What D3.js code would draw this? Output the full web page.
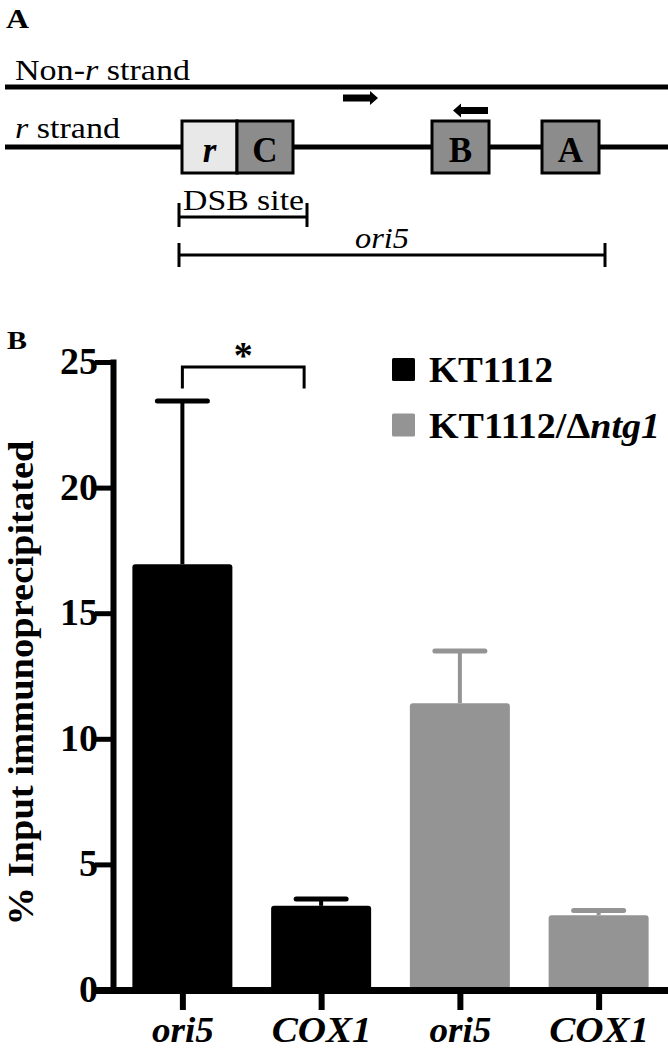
<!DOCTYPE html>
<html>
<head>
<meta charset="utf-8">
<script src="https://cdn.jsdelivr.net/npm/d3@7"></script>
<style>
  body { margin: 0; background: #fff; }
  text { font-family: "Liberation Serif", "Times New Roman", Times, serif; }
</style>
</head>
<body>
<script>
// bar chart data (panel B)
var genes = ["ori5", "COX1", "ori5", "COX1"];
var strains = ["KT1112", "KT1112", "KT1112/Δntg1", "KT1112/Δntg1"];
var means = [16.95, 3.35, 11.42, 2.98];
var errors = [6.5, 0.27, 2.08, 0.18];
var yTicks = [0, 5, 10, 15, 20, 25];
var legendNames = ["KT1112", "KT1112/Δntg1"];
var legendColors = ["#000000", "#949494"];

var width = 668, height = 1051;
var svg = d3.select("body").append("svg")
  .attr("width", width)
  .attr("height", height);

/////////////////////////////////////////////////////////////
// panel A : schematic
var gA = svg.append("g");

gA.append("text").attr("x", 6).attr("y", 28)
  .attr("font-size", 28).attr("font-weight", "bold")
  .attr("textLength", 23).attr("lengthAdjust", "spacingAndGlyphs")
  .text("A");

var t1 = gA.append("text").attr("x", 15).attr("y", 80)
  .attr("font-size", 29)
  .attr("textLength", 175).attr("lengthAdjust", "spacingAndGlyphs");
t1.append("tspan").text("Non-");
t1.append("tspan").attr("font-style", "italic").text("r");
t1.append("tspan").text(" strand");

var t2 = gA.append("text").attr("x", 15).attr("y", 138)
  .attr("font-size", 29)
  .attr("textLength", 105).attr("lengthAdjust", "spacingAndGlyphs");
t2.append("tspan").attr("font-style", "italic").text("r");
t2.append("tspan").text(" strand");

// strands
gA.append("line").attr("x1", 5).attr("x2", 668).attr("y1", 87).attr("y2", 87)
  .attr("stroke", "#000").attr("stroke-width", 5);
gA.append("line").attr("x1", 5).attr("x2", 668).attr("y1", 147).attr("y2", 147)
  .attr("stroke", "#000").attr("stroke-width", 5);

// primer arrows
gA.append("path")
  .attr("d", "M343,94.5 L370,94.5 L370,91 L378,98 L370,105 L370,101.5 L343,101.5 Z")
  .attr("fill", "#000");
gA.append("path")
  .attr("d", "M488,107 L461,107 L461,103.5 L453,110.5 L461,117.5 L461,114 L488,114 Z")
  .attr("fill", "#000");

// boxes
var boxes = [
  {label: "r", x0: 182, x1: 237, fill: "#e8e8e8", italic: true},
  {label: "C", x0: 237, x1: 293, fill: "#8c8c8c", italic: false},
  {label: "B", x0: 432, x1: 489, fill: "#8c8c8c", italic: false},
  {label: "A", x0: 542, x1: 599, fill: "#8c8c8c", italic: false}
];
gA.selectAll("rect.box").data(boxes).enter().append("rect")
  .attr("class", "box")
  .attr("x", d => d.x0).attr("y", 121)
  .attr("width", d => d.x1 - d.x0).attr("height", 52)
  .attr("fill", d => d.fill)
  .attr("stroke", "#000").attr("stroke-width", 3);
gA.selectAll("text.boxlab").data(boxes).enter().append("text")
  .attr("class", "boxlab")
  .attr("x", d => (d.x0 + d.x1) / 2).attr("y", 162)
  .attr("text-anchor", "middle")
  .attr("font-size", 35).attr("font-weight", "bold")
  .attr("font-style", d => d.italic ? "italic" : "normal")
  .text(d => d.label);

// DSB site bracket
gA.append("text").attr("x", 183).attr("y", 210)
  .attr("font-size", 29)
  .attr("textLength", 121).attr("lengthAdjust", "spacingAndGlyphs")
  .text("DSB site");
gA.append("path")
  .attr("d", "M179,203 L179,227 M179,217 L307,217 M307,203 L307,227")
  .attr("fill", "none").attr("stroke", "#000").attr("stroke-width", 3);

// ori5 bracket
gA.append("text").attr("x", 382).attr("y", 248)
  .attr("text-anchor", "middle")
  .attr("font-size", 29).attr("font-style", "italic")
  .attr("textLength", 54).attr("lengthAdjust", "spacingAndGlyphs")
  .text("ori5");
gA.append("path")
  .attr("d", "M179,243 L179,267 M179,255 L605,255 M605,243 L605,267")
  .attr("fill", "none").attr("stroke", "#000").attr("stroke-width", 3);

/////////////////////////////////////////////////////////////
// panel B : bar chart
svg.append("text").attr("x", 7).attr("y", 349)
  .attr("font-size", 25).attr("font-weight", "bold")
  .attr("textLength", 20).attr("lengthAdjust", "spacingAndGlyphs")
  .text("B");

var xScale = d3.scalePoint()
  .domain(d3.range(genes.length))
  .range([113, 668])
  .padding(0.5);

var yScale = d3.scaleLinear()
  .domain([0, 25])
  .range([990, 362]);

var colorOf = function(s) { return legendColors[legendNames.indexOf(s)]; };

var barW = 100;

// bars
svg.selectAll("rect.bar")
  .data(means)
  .enter().append("rect")
  .attr("class", "bar")
  .attr("x", (d, i) => xScale(i) - barW / 2)
  .attr("y", d => yScale(d))
  .attr("width", barW)
  .attr("height", d => yScale(0) - yScale(d))
  .attr("rx", 3)
  .attr("fill", (d, i) => colorOf(strains[i]));

// error bars
var eb = svg.selectAll("g.err")
  .data(means)
  .enter().append("g")
  .attr("class", "err")
  .attr("stroke", (d, i) => colorOf(strains[i]));
eb.append("line")
  .attr("x1", (d, i) => xScale(i)).attr("x2", (d, i) => xScale(i))
  .attr("y1", d => yScale(d))
  .attr("y2", (d, i) => yScale(d + errors[i]))
  .attr("stroke-width", 4);
eb.append("line")
  .attr("x1", (d, i) => xScale(i) - 25).attr("x2", (d, i) => xScale(i) + 25)
  .attr("y1", (d, i) => yScale(d + errors[i]))
  .attr("y2", (d, i) => yScale(d + errors[i]))
  .attr("stroke-width", 5)
  .attr("stroke-linecap", "round");

// y axis
var yAxis = d3.axisLeft(yScale)
  .tickValues(yTicks)
  .tickSize(18)
  .tickSizeOuter(0);
var gy = svg.append("g")
  .attr("transform", "translate(113,0)")
  .call(yAxis);
gy.select(".domain").attr("stroke-width", 6)
  .attr("d", "M0.5," + (yScale(25) - 2.5) + "V" + (yScale(0) + 4));
gy.selectAll(".tick line").attr("stroke-width", 5);
gy.selectAll(".tick text")
  .attr("x", -15)
  .attr("dy", "0.3em")
  .attr("font-size", 38)
  .attr("font-weight", "bold")
  .attr("fill", "#000");

// x axis
var xAxis = d3.axisBottom(xScale)
  .tickSize(20)
  .tickSizeOuter(0)
  .tickFormat(i => genes[i]);
var gx = svg.append("g")
  .attr("transform", "translate(0," + yScale(0) + ")")
  .call(xAxis);
gx.select(".domain").attr("stroke-width", 7)
  .attr("d", "M95,0.5H668");
gx.selectAll(".tick line").attr("stroke-width", 6);
gx.selectAll(".tick text")
  .attr("y", 52)
  .attr("dy", 0)
  .attr("font-size", 35)
  .attr("font-weight", "bold")
  .attr("font-style", "italic")
  .attr("fill", "#000")
  .attr("textLength", (i) => genes[i] === "COX1" ? 100 : 62)
  .attr("lengthAdjust", "spacingAndGlyphs");

// y axis title
svg.append("text")
  .attr("transform", "translate(33,683) rotate(-90)")
  .attr("text-anchor", "middle")
  .attr("font-size", 35)
  .attr("font-weight", "bold")
  .attr("textLength", 485).attr("lengthAdjust", "spacingAndGlyphs")
  .text("% Input immunoprecipitated");

// significance bracket
svg.append("path")
  .attr("d", "M" + xScale(0) + "," + yScale(23.95) + "V" + yScale(24.8) +
             "H" + (xScale(1) - 17) + "V" + yScale(23.95))
  .attr("fill", "none").attr("stroke", "#000").attr("stroke-width", 3);
svg.append("text")
  .attr("x", (xScale(0) + xScale(1) - 17) / 2).attr("y", 368)
  .attr("text-anchor", "middle")
  .attr("font-size", 38).attr("font-weight", "bold")
  .text("*");

// legend
var lg = svg.selectAll("g.legend")
  .data(legendNames)
  .enter().append("g")
  .attr("class", "legend")
  .attr("transform", (d, i) => "translate(392," + (358 + i * 55.5) + ")");
lg.append("rect")
  .attr("width", 23).attr("height", 23).attr("rx", 1.5)
  .attr("fill", (d, i) => legendColors[i]);
var lt = lg.append("text")
  .attr("x", 37).attr("y", 24)
  .attr("font-size", 36).attr("font-weight", "bold")
  .attr("textLength", (d, i) => i === 0 ? 124 : 231)
  .attr("lengthAdjust", "spacingAndGlyphs");
lt.each(function(d) {
  var t = d3.select(this);
  var k = d.indexOf("Δ");
  if (k < 0) { t.text(d); return; }
  t.append("tspan").text(d.slice(0, k + 1));
  t.append("tspan").attr("font-style", "italic").text(d.slice(k + 1));
});
</script>
</body>
</html>
